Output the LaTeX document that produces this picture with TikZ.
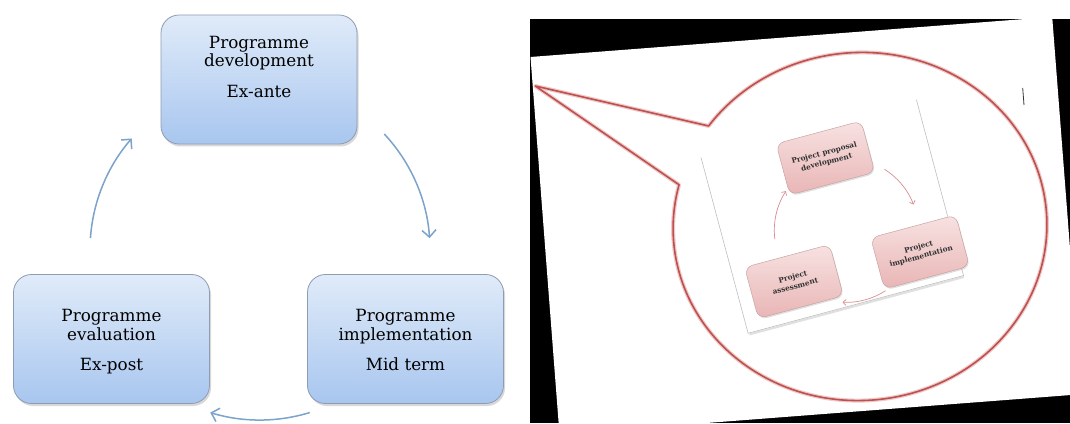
\documentclass[tikz,border=0pt]{standalone}
\usepackage{fontspec}
\setmainfont{DejaVu Serif}
\usetikzlibrary{arrows.meta,shadows,calc}
\definecolor{boxtop}{HTML}{E0EBF9}
\definecolor{boxbot}{HTML}{A8C6EF}
\definecolor{boxline}{HTML}{8E9CB4}
\definecolor{arrowblue}{HTML}{7BA3CB}
\definecolor{bubblered}{HTML}{C0504D}
\definecolor{pinktop}{HTML}{F8E2E2}
\definecolor{pinkbot}{HTML}{E9B5B5}
\definecolor{pinkline}{HTML}{C9A3A3}
\definecolor{pinkarrow}{HTML}{D98E8E}
\tikzset{
  bluebox/.style={draw=boxline, line width=0.8pt, rounded corners=18pt,
    top color=boxtop, bottom color=boxbot, minimum width=196pt, minimum height=129pt,
    inner sep=0pt, drop shadow={opacity=0.3, shadow xshift=1.5pt, shadow yshift=-2.5pt}},
  bluetext/.style={font=\fontsize{16.8}{19}\selectfont, inner sep=0pt, anchor=base, text=black},
  cyc/.style={draw=arrowblue, line width=1.5pt, -{Straight Barb[length=7pt,width=14pt]}},
  pinkbox/.style={draw=pinkline, line width=0.5pt, rounded corners=8pt,
    top color=pinktop, bottom color=pinkbot, minimum width=88pt, minimum height=53pt,
    transform shape, align=center, inner sep=1pt, text=black!80,
    font=\bfseries\fontsize{7.3}{9.6}\selectfont,
    drop shadow={opacity=0.25, shadow xshift=1pt, shadow yshift=-1.5pt}},
  pcyc/.style={draw=pinkarrow, line width=0.7pt, -{Straight Barb[length=3pt,width=6pt]}},
  bubble/.style={draw=bubblered, line width=1.6pt, line join=round},
  bubbleglow/.style={draw=bubblered!30, line width=4pt, line join=round},
}
\begin{document}
\begin{tikzpicture}[x=1pt,y=1pt]
\useasboundingbox (0,0) rectangle (1070,423);
\fill[white] (0,0) rectangle (1070,423);

% ---------- left panel ----------
\node[bluebox] (dev) at (259,343.5) {};
\node[bluebox] (eval) at (111.5,84) {};
\node[bluebox] (impl) at (405.5,84) {};

\node[bluetext] (dev1) at (259,374.7) {Programme};
\node[bluetext] (dev2) at (259,356.3) {development};
\node[bluetext] (dev3) at (259,325.7) {Ex-ante};

\node[bluetext] (eval1) at (111.5,101.3) {Programme};
\node[bluetext] (eval2) at (111.5,83) {evaluation};
\node[bluetext] (eval3) at (111.5,52.3) {Ex-post};

\node[bluetext] (impl1) at (405.5,101.3) {Programme};
\node[bluetext] (impl2) at (405.5,83) {implementation};
\node[bluetext] (impl3) at (405.5,52.3) {Mid term};

\coordinate (c) at (260,173);
\draw[cyc] ($(c)+(43:170)$) arc[start angle=43, end angle=4, radius=170];
\draw[cyc] ($(c)+(-73:170)$) arc[start angle=-73, end angle=-107, radius=170];
\draw[cyc] ($(c)+(176:170)$) arc[start angle=176, end angle=139, radius=170];

% ---------- right panel ----------
\begin{scope}
  \clip (530,0) rectangle (1070,404);
  \fill[black] (530,0) rectangle (1070,404);
  \fill[white] (530.5,366) -- (1052.2,406.1) -- (1081.2,28.8) -- (559.5,-11.3) -- cycle;
\end{scope}

% inner screenshot page
\begin{scope}[shift={(832.25,206.5)}, rotate=15]
  \fill[white] (-111.5,-91) rectangle (111.5,91);
  \draw[black!12, line width=2pt] (-110.5,-92.5) -- (111.5,-92.5);
  \draw[black!25, line width=0.6pt] (-111.5,91) -- (-111.5,-91) -- (111.5,-91) -- (111.5,91);
  \node[pinkbox] (pp) at (8.6,58.3) {Project proposal\\development};
  \node[pinkbox] (pi) at (75.6,-57) {Project\\implementation};
  \node[pinkbox] (pa) at (-53.8,-52.9) {Project\\assessment};
  \coordinate (pc) at (10,-17);
  \draw[pcyc] (62.66,32.10) arc[start angle=43, end angle=6, radius=72];
  \draw[pcyc] (32.25,-85.48) arc[start angle=-72, end angle=-108, radius=72];
  \draw[pcyc] (-61.30,-6.98) arc[start angle=172, end angle=132, radius=72];
\end{scope}

% callout bubble
\begin{scope}[shift={(860,196.5)}, rotate=4.4]
  \draw[bubbleglow] (140:187 and 174) arc[start angle=140, end angle=-198.6, x radius=187, y radius=174] -- (-313,165) -- cycle;
  \draw[bubble] (140:187 and 174) arc[start angle=140, end angle=-198.6, x radius=187, y radius=174] -- (-313,165) -- cycle;
\end{scope}

% small mark
\draw[black!80, line width=0.8pt] (1022.7,335) -- (1024,318);
\end{tikzpicture}
\end{document}
